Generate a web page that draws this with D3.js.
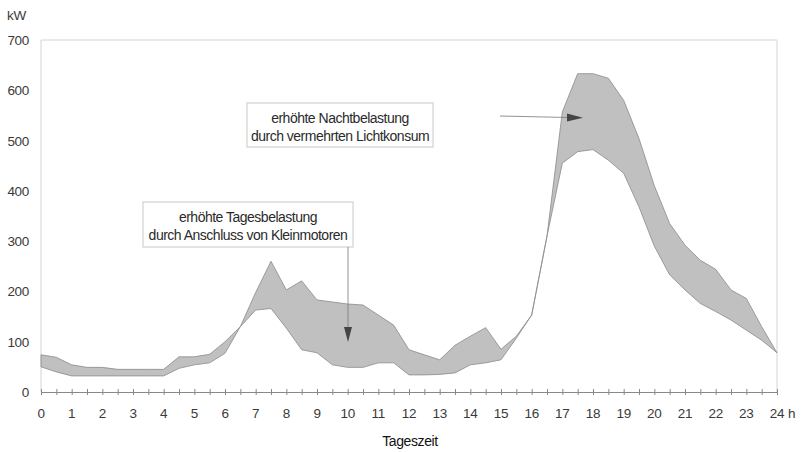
<!DOCTYPE html>
<html lang="de">
<head>
<meta charset="UTF-8">
<title>Tageslastgang</title>
<script src="https://d3js.org/d3.v7.min.js"></script>
<style>
  body { margin: 0; background: #fff; }
  svg { display: block; font-family: "Liberation Sans", Arial, sans-serif; }
  .lbl { fill: #3a3a3a; font-size: 13.5px; letter-spacing: -0.3px; }
  .note { fill: #2a2a2a; font-size: 14px; letter-spacing: -0.5px; }
</style>
</head>
<body>
<svg width="801" height="452"></svg>
<script>
// Tageszeit in Stunden (halbstündliche Werte)
var hours = [0, 0.5, 1, 1.5, 2, 2.5, 3, 3.5, 4, 4.5, 5, 5.5, 6, 6.5, 7, 7.5, 8, 8.5, 9, 9.5,
             10, 10.5, 11, 11.5, 12, 12.5, 13, 13.5, 14, 14.5, 15, 15.5, 16, 16.5, 17, 17.5,
             18, 18.5, 19, 19.5, 20, 20.5, 21, 21.5, 22, 22.5, 23, 23.5, 24];
// obere Kurve (erhoehte Belastung), kW
var upper = [74, 69, 54, 49, 49, 45, 45, 45, 45, 70, 70, 75, 100, 130, 198, 260, 203, 221, 183, 179,
             175, 173, 153, 133, 84, 74, 64, 93, 111, 128, 85, 111, 153, 310, 557, 633,
             633, 624, 580, 504, 410, 335, 292, 262, 244, 203, 186, 130, 78];
// untere Kurve, kW
var lower = [50, 40, 32, 32, 32, 32, 32, 32, 32, 47, 54, 58, 77, 130, 163, 166, 127, 84, 78, 54,
             49, 49, 58, 58, 34, 34, 35, 38, 54, 58, 64, 107, 153, 310, 455, 478,
             482, 461, 435, 368, 290, 233, 203, 176, 160, 143, 123, 103, 78];

var xTicks = [0,1,2,3,4,5,6,7,8,9,10,11,12,13,14,15,16,17,18,19,20,21,22,23,24];
var yTicks = [0, 100, 200, 300, 400, 500, 600, 700];

var svg = d3.select("svg");
var x = d3.scaleLinear().domain([0, 24]).range([41, 777]);
var y = d3.scaleLinear().domain([0, 700]).range([392, 40]);

// Rahmen (links, oben, rechts)
svg.append("path")
  .attr("d", "M" + x(0) + "," + y(0) + "V" + y(700) + "H" + x(24) + "V" + y(0))
  .attr("fill", "none").attr("stroke", "#d4d4d4").attr("stroke-width", 1);

var rows = hours.map(function(h, i) { return {h: h, hi: upper[i], lo: lower[i]}; });

var area = d3.area()
  .x(function(d) { return x(d.h); })
  .y0(function(d) { return y(d.lo); })
  .y1(function(d) { return y(d.hi); });

svg.append("path").datum(rows)
  .attr("d", area)
  .attr("fill", "#c0c0c0")
  .attr("stroke", "#8a8a8a").attr("stroke-width", 0.8);

// x-Achse mit Halbstunden-Strichen
var xAxis = svg.append("g").attr("transform", "translate(0," + y(0) + ")")
  .call(d3.axisBottom(x).tickValues(hours).tickSize(3).tickFormat(""));
xAxis.select(".domain").attr("stroke", "#888");
xAxis.selectAll(".tick line").attr("stroke", "#888").attr("y1", -3);

svg.selectAll(".xl").data(xTicks).enter().append("text")
  .attr("class", "lbl")
  .attr("x", function(d) { return x(d); })
  .attr("y", 418)
  .attr("text-anchor", "middle")
  .text(function(d) { return d; });
svg.append("text").attr("class", "lbl").attr("x", 788).attr("y", 418).text("h");

svg.selectAll(".yl").data(yTicks).enter().append("text")
  .attr("class", "lbl")
  .attr("x", 29)
  .attr("y", function(d) { return y(d) + 5; })
  .attr("text-anchor", "end")
  .text(function(d) { return d; });
svg.append("text").attr("class", "lbl").attr("x", 7).attr("y", 20).text("kW");

svg.append("text")
  .attr("x", 410).attr("y", 446)
  .attr("text-anchor", "middle")
  .attr("fill", "#111").attr("font-size", "14px").attr("letter-spacing", "-0.4px")
  .text("Tageszeit");

// Anmerkungen
function note(x0, y0, w, h, lines) {
  var g = svg.append("g");
  g.append("rect").attr("x", x0).attr("y", y0).attr("width", w).attr("height", h)
    .attr("fill", "#fff").attr("stroke", "#c8c8c8");
  lines.forEach(function(t, i) {
    g.append("text").attr("class", "note")
      .attr("x", x0 + w / 2).attr("y", y0 + 20 + i * 18)
      .attr("text-anchor", "middle").text(t);
  });
}
note(143, 202, 210, 45, ["erhöhte Tagesbelastung", "durch Anschluss von Kleinmotoren"]);
note(247, 103, 186, 44, ["erhöhte Nachtbelastung", "durch vermehrten Lichtkonsum"]);

// Pfeile
svg.append("line").attr("x1", 348).attr("y1", 247).attr("x2", 348).attr("y2", 328)
  .attr("stroke", "#777").attr("stroke-width", 0.8);
svg.append("path").attr("d", "M344,327L352,327L348,342Z").attr("fill", "#444");
svg.append("line").attr("x1", 500).attr("y1", 116).attr("x2", 568).attr("y2", 117.5)
  .attr("stroke", "#777").attr("stroke-width", 0.8);
svg.append("path").attr("d", "M567,113.5L583,117.7L567,121.5Z").attr("fill", "#444");
</script>
</body>
</html>
